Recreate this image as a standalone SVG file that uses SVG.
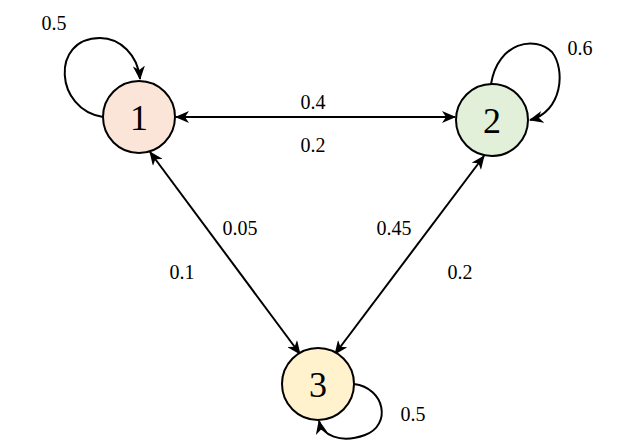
<svg xmlns="http://www.w3.org/2000/svg" width="627" height="447" viewBox="0 0 627 447">
<defs>
<marker id="a" viewBox="0 0 14 12" refX="13" refY="6" markerWidth="14" markerHeight="12" markerUnits="userSpaceOnUse" orient="auto-start-reverse"><path d="M0,0 L14,6 L0,12 L4,6 Z" fill="#000"/></marker>
</defs>
<style>
.n{stroke:#000;stroke-width:2}
.e{fill:none;stroke:#000;stroke-width:2}
.t{font-family:"Liberation Serif",serif;font-size:20px;text-anchor:middle}
.d{font-family:"Liberation Serif",serif;font-size:36px;text-anchor:middle}
</style>
<rect width="627" height="447" fill="#fff"/>
<g id="connectors">
<path class="e" d="M103,117 C55,110 50,38 100,38 C120,38 138,55 140,79" marker-end="url(#a)"/>
<path class="e" d="M491,84 C498,42 535,35 552,52 C566,70 562,112 530,120" marker-end="url(#a)"/>
<path class="e" d="M354,384 C385,388 392,425 365,435 C340,444 322,435 319,421" marker-end="url(#a)"/>
<path class="e" d="M176,117 L455,117" marker-start="url(#a)" marker-end="url(#a)"/>
<path class="e" d="M150,152 L300,354" marker-start="url(#a)" marker-end="url(#a)"/>
<path class="e" d="M484,156 L335,354" marker-start="url(#a)" marker-end="url(#a)"/>
<text class="t" x="54" y="30">0.5</text>
<text class="t" x="580" y="55">0.6</text>
<text class="t" x="413" y="421">0.5</text>
<text class="t" x="313" y="109">0.4</text>
<text class="t" x="313" y="152">0.2</text>
<text class="t" x="240" y="235">0.05</text>
<text class="t" x="182" y="279">0.1</text>
<text class="t" x="394" y="235">0.45</text>
<text class="t" x="460" y="279">0.2</text>
</g>
<g id="node1"><circle class="n" cx="139" cy="117" r="36" fill="#fae5d8"/><text class="d" x="139" y="130">1</text></g>
<g id="node2"><circle class="n" cx="492" cy="120" r="36" fill="#e2efd9"/><text class="d" x="492" y="133">2</text></g>
<g id="node3"><circle class="n" cx="318" cy="384" r="36" fill="#fff2cc"/><text class="d" x="318" y="397">3</text></g>
</svg>
